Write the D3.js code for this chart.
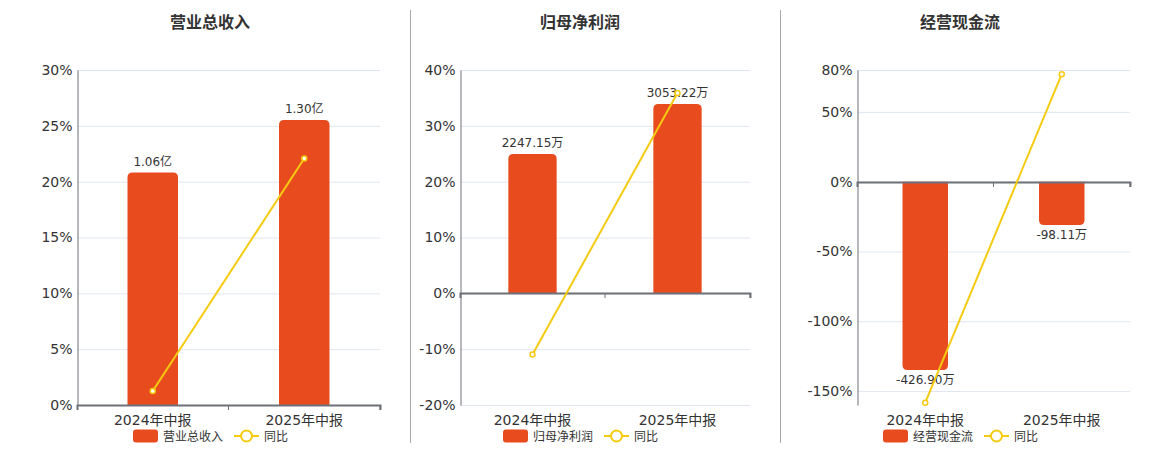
<!DOCTYPE html>
<html><head><meta charset="utf-8">
<script src="https://cdn.jsdelivr.net/npm/d3@7"></script>
<style>
html,body{margin:0;padding:0;background:#fff;}
svg text{font-family:"DejaVu Sans","Noto Sans CJK SC",sans-serif;}
</style></head>
<body><svg id="c" width="1160" height="450"></svg>
<script>
const categories = ["2024年中报", "2025年中报"];
const titles = ["营业总收入", "归母净利润", "经营现金流"];
const barValues = [[1.06, 1.30], [2247.15, 3053.22], [-426.90, -98.11]];
const barLabels = [["1.06亿", "1.30亿"], ["2247.15万", "3053.22万"], ["-426.90万", "-98.11万"]];
const yoyValues = [[1.25, 22.08], [-10.95, 35.87], [-158.3, 77.02]];
const yTicks = [[0, 5, 10, 15, 20, 25, 30], [-20, -10, 0, 10, 20, 30, 40], [-150, -100, -50, 0, 50, 80]];
const yDomains = [[0, 30], [-20, 40], [-160, 80]];
const barDomains = [[0, 1.528], [-1800, 3600], [-506, 253]];

const panels = [
  {x0: 77, x1: 380, cx: 210, lg: 133},
  {x0: 460, x1: 750, cx: 580, lg: 503},
  {x0: 857, x1: 1130, cx: 960, lg: 883}
];
const plotTop = 70, plotBottom = 405;
const BAR = "#E84C1E", LINE = "#F5CB11";
const svg = d3.select("#c");

// dividers
[410.5, 780.5].forEach(x => svg.append("line").attr("x1", x).attr("x2", x).attr("y1", 10).attr("y2", 443)
  .attr("stroke", "#aaa").attr("stroke-width", 1));

const legendNames = titles;

panels.forEach((p, i) => {
  const g = svg.append("g");
  const x = d3.scaleBand().domain(categories).range([p.x0, p.x1]);
  const y = d3.scaleLinear().domain(yDomains[i]).range([plotBottom, plotTop]);
  const yb = d3.scaleLinear().domain(barDomains[i]).range([plotBottom, plotTop]);

  g.append("text").attr("x", p.cx).attr("y", 28).attr("text-anchor", "middle")
    .attr("font-size", 16).attr("font-weight", "bold").attr("fill", "#333").text(titles[i]);

  // grid
  g.selectAll(".grid").data(yTicks[i]).enter().append("line")
    .attr("x1", p.x0).attr("x2", p.x1).attr("y1", d => y(d) + 0.5).attr("y2", d => y(d) + 0.5)
    .attr("stroke", "#e0e6f1").attr("stroke-width", 1);

  // y axis
  const ya = d3.axisLeft(y).tickValues(yTicks[i]).tickFormat(d => d + "%").tickSize(0).tickPadding(5);
  const yg = g.append("g").attr("transform", `translate(${p.x0 + 0.5},0)`).call(ya);
  yg.select(".domain").attr("stroke", "#6e7079");
  yg.selectAll("text").attr("font-size", 14).attr("fill", "#333");

  // bars
  const bw = x.bandwidth() / 3;
  const r = 5;
  barValues[i].forEach((v, j) => {
    const cx = x(categories[j]) + x.bandwidth() / 2;
    const y0 = yb(0), y1 = yb(v);
    const xl = cx - bw / 2, xr = cx + bw / 2;
    let path;
    if (v >= 0) {
      path = `M${xl},${y0}V${y1 + r}Q${xl},${y1} ${xl + r},${y1}H${xr - r}Q${xr},${y1} ${xr},${y1 + r}V${y0}Z`;
    } else {
      path = `M${xl},${y0}V${y1 - r}Q${xl},${y1} ${xl + r},${y1}H${xr - r}Q${xr},${y1} ${xr},${y1 - r}V${y0}Z`;
    }
    g.append("path").attr("d", path).attr("fill", BAR);
    g.append("text").attr("x", cx).attr("y", v >= 0 ? y1 - 7 : y1 + 14)
      .attr("text-anchor", "middle").attr("font-size", 12).attr("fill", "#333").text(barLabels[i][j]);
  });

  // x axis
  const xa = d3.axisBottom(x).tickSize(5).tickSizeOuter(5);
  const xg = g.append("g").attr("transform", `translate(0,${Math.round(y(0))})`).call(xa);
  xg.select(".domain").attr("stroke", "#6e7079").attr("stroke-width", 2);
  xg.selectAll(".tick line").attr("stroke", "#6e7079").attr("transform", `translate(${x.bandwidth() / 2},0)`);
  xg.selectAll(".tick text").remove();
  // category labels at bottom
  categories.forEach(c => {
    g.append("text").attr("x", x(c) + x.bandwidth() / 2).attr("y", plotBottom + 20).attr("text-anchor", "middle")
      .attr("font-size", 14).attr("fill", "#333").text(c);
  });

  // line
  const pts = yoyValues[i].map((v, j) => [x(categories[j]) + x.bandwidth() / 2, y(v)]);
  g.append("path").attr("d", d3.line()(pts)).attr("fill", "none").attr("stroke", LINE).attr("stroke-width", 2);
  pts.forEach(pt => g.append("circle").attr("cx", pt[0]).attr("cy", pt[1]).attr("r", 2.5)
    .attr("fill", "#fff").attr("stroke", LINE).attr("stroke-width", 1.5));

  // legend
  const lx = p.lg, ly = 436;
  g.append("rect").attr("x", lx).attr("y", ly - 6.5).attr("width", 25).attr("height", 13).attr("rx", 3)
    .attr("fill", BAR);
  const t = g.append("text").attr("x", lx + 30).attr("y", ly + 4.5).attr("font-size", 12).attr("fill", "#333")
    .text(legendNames[i]);
  const tw = t.node().getComputedTextLength();
  const l2 = lx + 30 + tw + 11;
  g.append("line").attr("x1", l2).attr("x2", l2 + 25).attr("y1", ly).attr("y2", ly)
    .attr("stroke", LINE).attr("stroke-width", 2);
  g.append("circle").attr("cx", l2 + 12.5).attr("cy", ly).attr("r", 5.5).attr("fill", "#fff")
    .attr("stroke", LINE).attr("stroke-width", 2);
  g.append("text").attr("x", l2 + 30).attr("y", ly + 4.5).attr("font-size", 12).attr("fill", "#333").text("同比");
});
</script></body></html>
